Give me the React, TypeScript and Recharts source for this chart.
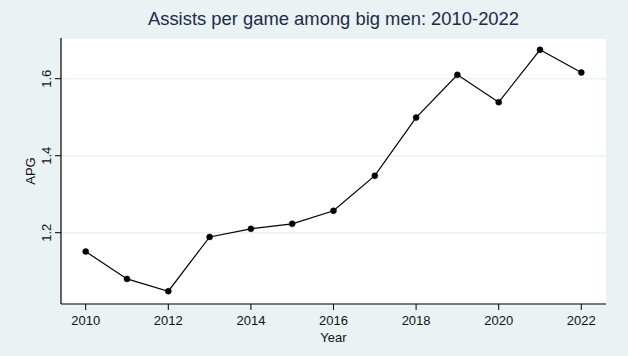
import { LineChart, Line, XAxis, YAxis, CartesianGrid } from 'recharts';

// values
const years = [2010, 2011, 2012, 2013, 2014, 2015, 2016, 2017, 2018, 2019, 2020, 2021, 2022];
const apg = [1.151, 1.08, 1.048, 1.189, 1.21, 1.223, 1.257, 1.348, 1.499, 1.61, 1.539, 1.675, 1.616];
const xTicks = [2010, 2012, 2014, 2016, 2018, 2020, 2022];
const yTicks = [1.2, 1.4, 1.6];

const BG = '#eaf2f3';
const FONT = '"Liberation Sans", Arial, sans-serif';

const data = years.map((year, i) => ({ year, apg: apg[i] }));

function YTick(props: any) {
  const { y, payload } = props;
  return (
    <text
      x={51}
      y={y}
      transform={`rotate(-90, 51, ${y})`}
      textAnchor="middle"
      fontSize={13}
      fontFamily={FONT}
      fill="#111"
    >
      {payload.value.toFixed(1)}
    </text>
  );
}

export default function App() {
  return (
    <div style={{ position: 'absolute', left: 0, top: 0, width: 628, height: 356, background: BG }}>
      <svg width={628} height={356} style={{ position: 'absolute', left: 0, top: 0, pointerEvents: 'none' }}>
        <text x={333.5} y={25} textAnchor="middle" fontSize={18.4} fontFamily={FONT} fill="#1e2a4a">
          Assists per game among big men: 2010-2022
        </text>
      </svg>
      <LineChart
        width={628}
        height={356}
        data={data}
        margin={{ top: 38, right: 22, bottom: 12, left: 21 }}
        style={{ position: 'absolute', left: 0, top: 0 }}
      >
        <CartesianGrid vertical={false} stroke={BG} strokeWidth={1.5} fill="#fff" />
        <XAxis
          dataKey="year"
          type="number"
          domain={[2009.402, 2022.598]}
          ticks={xTicks}
          allowDataOverflow
          height={40}
          tickSize={6}
          tickMargin={6}
          tick={{ fontSize: 13, fontFamily: FONT, fill: '#111' }}
          tickLine={{ stroke: '#000' }}
          axisLine={{ stroke: '#000', strokeWidth: 1.2 }}
          label={{
            content: ({ viewBox }: any) => (
              <text
                x={viewBox.x + viewBox.width / 2}
                y={viewBox.y + 38}
                textAnchor="middle"
                fontSize={13}
                fontFamily={FONT}
                fill="#111"
              >
                Year
              </text>
            ),
          }}
        />
        <YAxis
          type="number"
          domain={[1.0148, 1.7057]}
          ticks={yTicks}
          allowDataOverflow
          width={40}
          tickSize={6}
          tick={<YTick />}
          tickLine={{ stroke: '#000' }}
          axisLine={{ stroke: '#000', strokeWidth: 1.2 }}
          label={{
            content: ({ viewBox }: any) => {
              const cx = 35;
              const cy = viewBox.y + viewBox.height / 2;
              return (
                <text
                  x={cx}
                  y={cy}
                  transform={`rotate(-90, ${cx}, ${cy})`}
                  textAnchor="middle"
                  fontSize={13}
                  fontFamily={FONT}
                  fill="#111"
                >
                  APG
                </text>
              );
            },
          }}
        />
        <Line
          type="linear"
          dataKey="apg"
          stroke="#000"
          strokeWidth={1.2}
          dot={{ r: 3, fill: '#000', stroke: '#000', strokeWidth: 0.5 }}
          activeDot={false}
          isAnimationActive={false}
        />
      </LineChart>
    </div>
  );
}
